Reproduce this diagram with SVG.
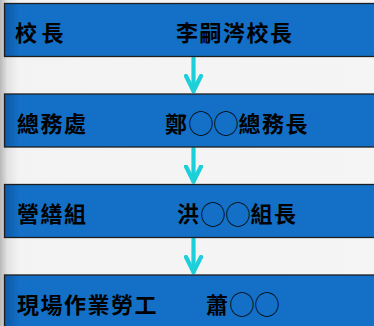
<svg xmlns="http://www.w3.org/2000/svg" width="374" height="326" viewBox="0 0 374 326">
<defs>
<linearGradient id="bg" x1="0" y1="0" x2="1" y2="0">
<stop offset="0" stop-color="#b8b8b8"/>
<stop offset="0.02" stop-color="#e2e2e2"/>
<stop offset="0.05" stop-color="#f3f3f3"/>
<stop offset="1" stop-color="#f5f5f5"/>
</linearGradient>
<linearGradient id="box" x1="0" y1="0" x2="1" y2="0">
<stop offset="0" stop-color="#0c58a8"/>
<stop offset="0.04" stop-color="#1470c6"/>
<stop offset="1" stop-color="#1470c6"/>
</linearGradient>
<marker id="head" viewBox="0 0 20 20" refX="17" refY="10" markerWidth="20" markerHeight="20" markerUnits="userSpaceOnUse" orient="auto">
<path d="M2,2.5 L17,10 L2,17.5" fill="none" stroke="#1ccfd8" stroke-width="4.2" stroke-linecap="round" stroke-linejoin="round"/>
</marker>
</defs>
<style>
.box{fill:url(#box);stroke:#1e1e1e;stroke-width:1.3}
.t{font-family:"Noto Sans CJK TC","Noto Sans CJK JP",sans-serif;font-weight:700;font-size:22px;fill:#000;letter-spacing:1.5px}
.c{font-weight:400;font-size:25px;letter-spacing:0}
.arr{stroke:#1ccfd8;stroke-width:4.2;stroke-linecap:round;fill:none}
</style>
<rect x="0" y="0" width="374" height="326" fill="url(#bg)"/>
<g id="connectors">
<line class="arr" x1="193.5" y1="58" x2="193.5" y2="91" marker-end="url(#head)"/>
<line class="arr" x1="193.5" y1="148.5" x2="193.5" y2="181.5" marker-end="url(#head)"/>
<line class="arr" x1="193.5" y1="239" x2="193.5" y2="272" marker-end="url(#head)"/>
</g>
<g id="n1">
<rect class="box" x="4.5" y="3.5" width="380" height="53"/>
<text class="t" x="15" y="41" style="letter-spacing:4.5px">校長</text>
<text class="t" x="176" y="41">李嗣涔校長</text>
</g>
<g id="n2">
<rect class="box" x="4.5" y="94" width="380" height="53"/>
<text class="t" x="17" y="131.5">總務處</text>
<text class="t" x="165" y="131.5">鄭<tspan class="c" dy="1.5">◯◯</tspan><tspan dy="-1.5">總務長</tspan></text>
</g>
<g id="n3">
<rect class="box" x="4.5" y="184.5" width="380" height="53"/>
<text class="t" x="17" y="222">營繕組</text>
<text class="t" x="177" y="222">洪<tspan class="c" dy="1.5">◯◯</tspan><tspan dy="-1.5">組長</tspan></text>
</g>
<g id="n4">
<rect class="box" x="4.5" y="275" width="380" height="60"/>
<text class="t" x="17" y="312.5">現場作業勞工</text>
<text class="t" x="206" y="312.5">蕭<tspan class="c" dy="1.5">◯◯</tspan></text>
</g>
</svg>
